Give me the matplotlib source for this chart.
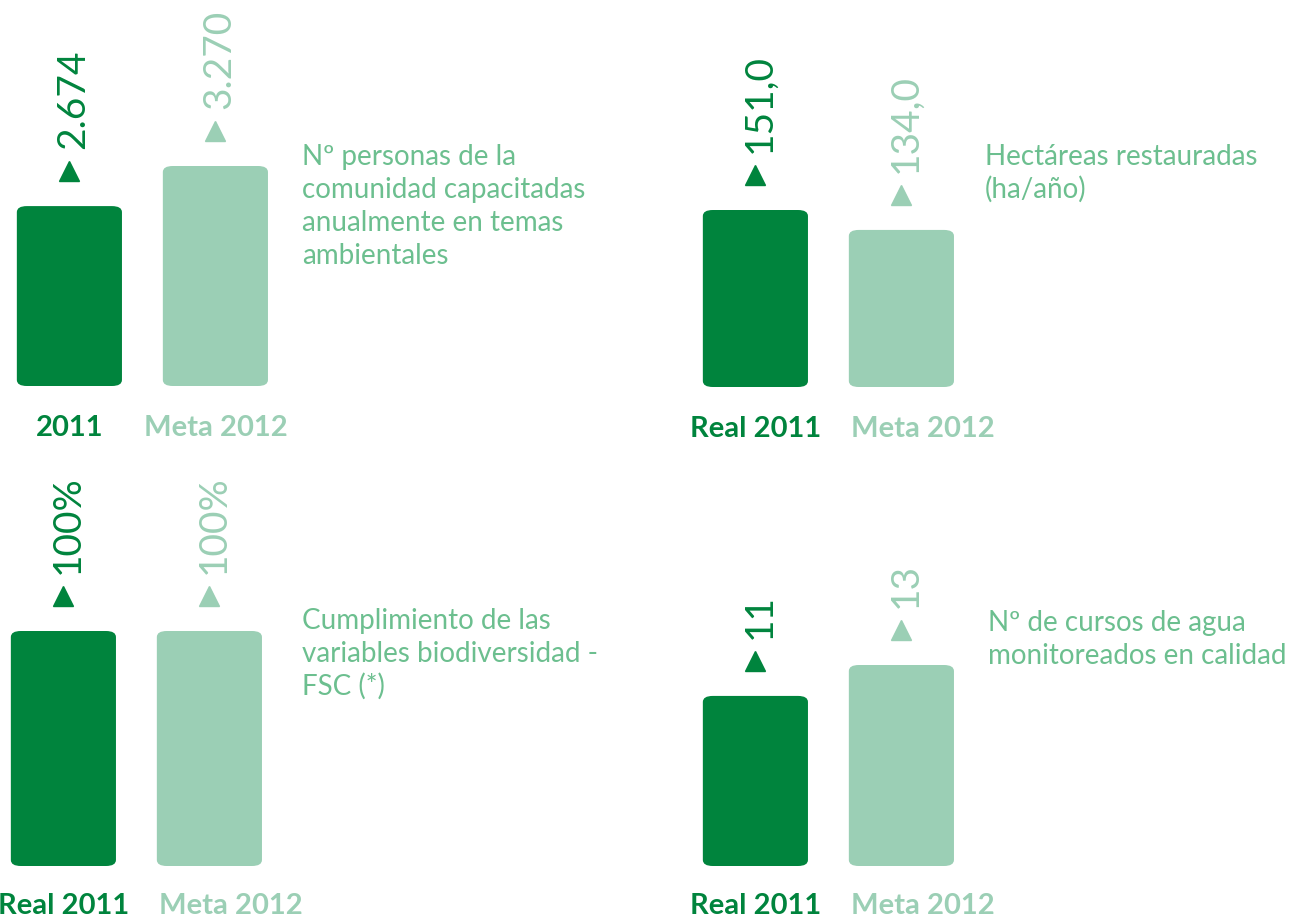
import matplotlib
matplotlib.use("Agg")
import matplotlib.pyplot as plt
from matplotlib.patches import FancyBboxPatch
from matplotlib.transforms import offset_copy

# Data
desc_personas = ["Nº personas de la", "comunidad capacitadas", "anualmente en temas", "ambientales"]
cats_personas = ["2011", "Meta 2012"]
values_personas = [2674, 3270]
labels_personas = ["2.674", "3.270"]

desc_hectareas = ["Hectáreas restauradas", "(ha/año)"]
cats_hectareas = ["Real 2011", "Meta 2012"]
values_hectareas = [151.0, 134.0]
labels_hectareas = ["151,0", "134,0"]

desc_fsc = ["Cumplimiento de las", "variables biodiversidad -", "FSC (*)"]
cats_fsc = ["Real 2011", "Meta 2012"]
values_fsc = [100, 100]
labels_fsc = ["100%", "100%"]

desc_cursos = ["Nº de cursos de agua", "monitoreados en calidad"]
cats_cursos = ["Real 2011", "Meta 2012"]
values_cursos = [11, 13]
labels_cursos = ["11", "13"]

DARK = "#00843d"
LIGHT = "#9bcfb5"
TEXT = "#6cbf8f"
FONT = ["Lato", "DejaVu Sans"]

W, H = 1296, 916
fig = plt.figure(figsize=(W / 100, H / 100), dpi=100)
fig.patch.set_facecolor("white")

UNIT = 146  # px per bar slot
BAR_W = 0.72


def draw_panel(left, base, height, cats, values, labels, desc, dx, dy,
               cat_gap=50, meta_left=True):
    ax = fig.add_axes([left / W, 1 - base / H, 2 * UNIT / W, height / H])
    ax.set_xlim(-0.4, 1.6)
    ax.set_ylim(0, max(values))
    ax.axis("off")
    colors = [DARK, LIGHT]
    bars = ax.bar(range(len(values)), values, width=BAR_W, color=colors)

    px_y = height / max(values)
    rx = 10 / UNIT
    aspect = (6 / px_y) / rx
    for b, c in zip(bars, colors):
        p = FancyBboxPatch((b.get_x(), b.get_y()), b.get_width(), b.get_height(),
                           boxstyle=f"round,pad=0,rounding_size={rx}",
                           mutation_aspect=aspect, fc=c, ec="none", clip_on=False)
        b.remove()
        ax.add_patch(p)

    tri = offset_copy(ax.transData, fig=fig, y=35, units="dots")
    for i, (v, lab, cat, c) in enumerate(zip(values, labels, cats, colors)):
        ax.plot(i, v, marker="^", ms=14.4, color=c, transform=tri, clip_on=False)
        ax.annotate(lab, (i, v), xytext=(15, 57), textcoords="offset pixels",
                    rotation=90, rotation_mode="anchor", ha="left", va="baseline",
                    fontsize=28, family=FONT, color=c, annotation_clip=False)
        if i == 1 and meta_left:
            ax.annotate(cat, (i - BAR_W / 2, 0), xytext=(2, -cat_gap),
                        textcoords="offset pixels", ha="left", va="baseline",
                        fontsize=21, weight="bold", family=FONT, color=c,
                        annotation_clip=False)
        else:
            ax.annotate(cat, (i, 0), xytext=(0, -cat_gap), textcoords="offset pixels",
                        ha="center", va="baseline", fontsize=21, weight="bold",
                        family=FONT, color=c, annotation_clip=False)

    for k, line in enumerate(desc):
        fig.text(dx / W, 1 - (dy + 33 * k) / H, line, ha="left", va="baseline",
                 fontsize=20, family=FONT, color=TEXT)


draw_panel(11, 386, 220, cats_personas, values_personas, labels_personas,
           desc_personas, 302, 165, meta_left=False)
draw_panel(697, 387, 177, cats_hectareas, values_hectareas, labels_hectareas,
           desc_hectareas, 985, 165)
draw_panel(5, 866, 235, cats_fsc, values_fsc, labels_fsc, desc_fsc, 302, 629,
           cat_gap=48)
draw_panel(697, 866, 201, cats_cursos, values_cursos, labels_cursos,
           desc_cursos, 988, 631, cat_gap=48)

fig.savefig("out.png", dpi=100)
